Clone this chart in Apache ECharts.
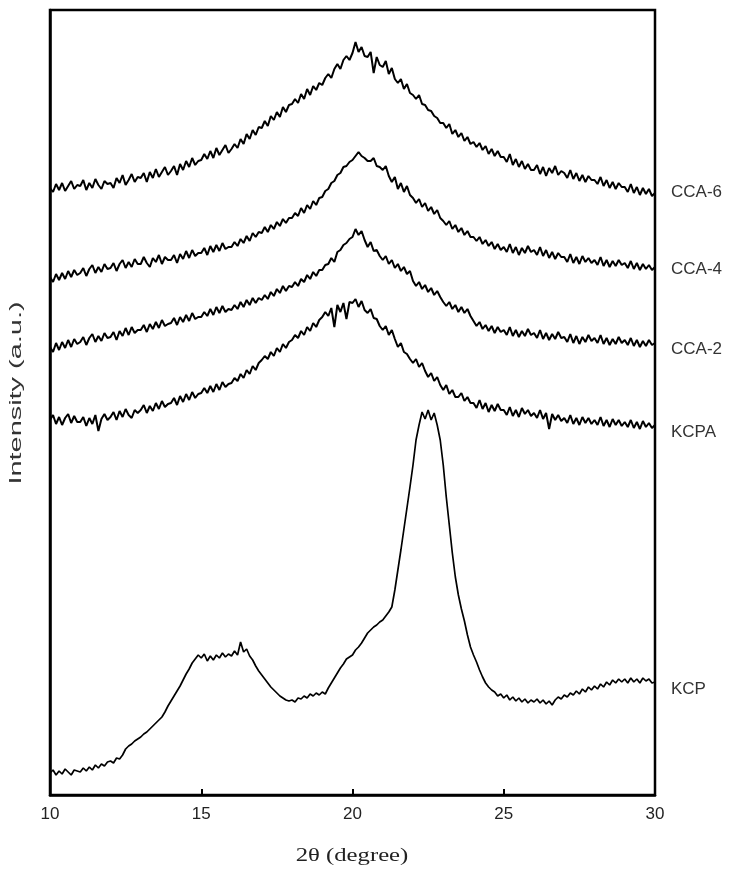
<!DOCTYPE html>
<html>
<head>
<meta charset="utf-8">
<script src="https://cdn.jsdelivr.net/npm/echarts@6/dist/echarts.min.js"></script>
<style>
html,body{margin:0;padding:0;background:#fff;}
#chart{width:750px;height:878px;}
</style>
</head>
<body>
<div id="chart"></div>
<script>
// 2θ sampling: 10.0 to 30.0 deg, step 0.1
const angleStart = 10, angleStep = 0.1, angleCount = 201;
const seriesNames = ['CCA-6', 'CCA-4', 'CCA-2', 'KCPA', 'KCP'];
const xTicks = [10, 15, 20, 25, 30];
const xTitle = '2θ (degree)';
const yTitle = 'Intensity (a.u.)';

const cca6 = [
607,603,611,605,612,604,609,614,606,610,
609,615,605,612,607,616,610,606,614,611,
612,607,617,612,620,610,615,621,613,618,
617,622,613,623,617,626,618,623,628,620,
624,629,620,631,625,634,628,637,630,634,
635,641,636,644,637,647,640,645,650,642,
646,651,647,656,651,661,656,665,660,668,
667,674,669,679,675,683,678,688,683,690,
691,696,692,701,696,706,700,709,705,712,
710,717,721,717,726,731,726,735,739,735,
742,753,743,748,739,738,743,722,738,730,
728,734,721,727,716,712,716,706,711,702,
700,696,700,691,690,685,684,679,677,672,
672,667,671,661,665,658,662,654,658,651,
653,648,652,645,649,641,646,639,644,638,
638,633,641,630,636,628,634,626,631,625,
625,630,621,628,619,627,622,629,620,624,
622,617,625,616,622,614,620,613,619,615,
615,611,618,609,615,607,613,606,612,608,
608,603,611,602,608,600,607,601,606,599,
602];

const cca4 = [
518,513,521,515,522,516,524,518,525,520,
522,527,519,526,530,522,528,523,531,526,
527,532,524,531,535,527,533,528,536,531,
531,538,532,528,537,533,540,531,538,535,
535,540,532,541,536,544,537,545,539,542,
542,547,540,549,543,550,544,552,546,548,
548,553,549,556,552,559,554,562,558,563,
562,568,563,570,566,573,569,576,572,577,
577,582,579,587,582,590,586,594,590,597,
598,604,606,612,614,620,622,628,629,633,
635,639,643,639,637,634,634,637,629,628,
625,629,619,613,618,606,612,603,609,600,
597,592,596,588,592,584,588,581,585,577,
574,570,574,566,570,563,567,560,564,558,
558,554,558,551,555,549,553,546,551,545,
548,543,551,542,548,540,547,542,549,543,
545,540,548,539,545,537,543,536,542,538,
538,533,541,532,538,531,539,533,537,532,
535,530,538,529,535,528,534,529,535,530,
532,527,534,526,532,525,531,526,530,525,
528];

const cca2 = [
448,443,452,445,453,447,455,448,456,451,
453,458,450,457,461,453,459,454,462,457,
458,463,455,464,459,467,460,468,462,465,
465,470,463,471,466,473,467,475,469,471,
472,477,470,478,473,480,474,482,476,478,
478,483,479,486,480,488,482,489,483,486,
485,490,486,493,488,495,490,497,492,497,
495,500,496,503,499,506,502,509,504,509,
508,513,509,516,513,520,516,523,519,525,
525,530,531,537,533,543,545,550,552,556,
558,566,560,564,555,548,553,544,545,539,
535,539,531,535,527,531,524,528,521,524,
514,509,513,506,510,503,507,500,504,498,
493,489,493,486,490,483,488,482,486,479,
474,469,473,466,470,464,469,462,468,463,
465,460,468,459,465,458,464,459,466,460,
462,457,465,456,462,455,461,456,463,457,
458,453,461,452,459,451,458,453,460,454,
457,452,460,451,457,450,456,451,458,452,
455,450,457,449,455,448,454,449,455,450,
452];

const kcpa = [
375,380,371,378,370,377,381,372,379,373,
373,378,369,377,371,380,364,376,381,375,
378,383,375,384,378,386,380,377,385,382,
385,390,382,389,384,392,386,394,388,391,
392,397,390,399,393,401,395,403,397,401,
402,407,402,409,403,411,405,413,408,411,
412,417,414,421,417,425,421,429,425,432,
435,439,436,443,439,447,443,451,447,453,
455,460,457,464,460,468,464,472,468,475,
478,483,479,487,468,490,483,492,476,493,
492,496,488,494,485,482,486,477,476,469,
465,469,460,465,456,448,452,443,441,436,
432,436,428,432,424,418,422,414,418,410,
405,410,401,405,398,398,402,394,398,392,
392,387,395,386,392,383,390,384,391,385,
385,380,388,379,385,378,387,381,385,379,
382,377,385,376,382,366,381,375,380,374,
377,372,380,371,377,370,378,372,377,371,
375,370,378,369,375,368,376,370,375,369,
373,368,375,367,373,366,374,368,372,367,
370];

const kcp = [
22,25,20,24,21,26,23,20,25,24,
23,27,24,28,25,30,27,31,29,33,
34,32,37,36,40,46,49,51,54,56,
58,61,63,66,69,72,75,78,83,89,
94,99,104,109,115,121,126,132,136,140,
137,141,134,139,135,140,137,142,138,141,
139,144,140,153,143,146,139,135,129,124,
120,116,112,108,105,102,99,97,95,94,
95,93,97,96,99,97,101,99,102,100,
103,101,107,112,117,122,127,131,136,138,
140,145,148,152,157,162,165,168,170,173,
175,179,183,188,205,225,245,266,287,308,
330,355,370,383,376,385,375,382,370,355,
330,298,270,242,218,200,186,174,160,148,
140,133,125,118,112,108,105,103,99,101,
97,100,95,98,94,97,93,96,92,95,
93,96,92,95,91,94,90,95,98,96,
100,98,102,100,104,101,106,103,108,105,
109,106,111,108,113,110,115,112,116,113,
116,112,117,113,116,112,117,114,116,112,
113];

const seriesValues = [cca6, cca4, cca2, kcpa, kcp];
const labelOffsets = [[0, -1], [0, 2], [0, 6], [0, 7], [0, 7]];

const angles = [];
for (let i = 0; i < angleCount; i++) angles.push(+(angleStart + i * angleStep).toFixed(1));

const chart = echarts.init(document.getElementById('chart'));
const series = seriesNames.map((name, k) => ({
  name: name,
  type: 'line',
  data: angles.map((a, i) => [a, seriesValues[k][i]]),
  showSymbol: false,
  symbol: 'none',
  lineStyle: { color: '#000', width: k === 4 ? 1.7 : 2 },
  endLabel: {
    show: true,
    formatter: '{a}',
    color: '#333',
    fontFamily: 'Liberation Sans, Arial, sans-serif',
    fontSize: 17,
    distance: 16,
    offset: labelOffsets[k]
  },
  animation: false
}));

chart.setOption({
  animation: false,
  backgroundColor: '#fff',
  grid: {
    left: 50, right: 95, top: 10, bottom: 83,
    show: true, borderColor: '#000', borderWidth: 2.5, backgroundColor: 'transparent'
  },
  xAxis: {
    type: 'value',
    min: 10, max: 30, interval: 5,
    axisLine: { show: true, lineStyle: { color: '#000', width: 2.5 } },
    axisTick: { show: true, inside: true, length: 6, lineStyle: { color: '#000', width: 2 } },
    axisLabel: { color: '#222', fontFamily: 'Liberation Sans, Arial, sans-serif', fontSize: 17, margin: 11,
      formatter: v => xTicks.includes(v) ? String(v) : '' },
    splitLine: { show: false }
  },
  yAxis: {
    type: 'value',
    min: 0, max: 785,
    axisLine: { show: true, lineStyle: { color: '#000', width: 2.5 } },
    axisTick: { show: false },
    axisLabel: { show: false },
    splitLine: { show: false }
  },
  graphic: [
    {
      type: 'text',
      x: 352, y: 856,
      scaleX: 1.3,
      style: {
        text: xTitle,
        fontFamily: 'Liberation Serif, Times New Roman, serif',
        fontSize: 19,
        fill: '#222',
        textAlign: 'center',
        textVerticalAlign: 'middle'
      }
    },
    {
      type: 'text',
      x: 16, y: 393,
      rotation: Math.PI / 2,
      scaleX: 1.7,
      style: {
        text: yTitle,
        fontFamily: 'Liberation Sans, Arial, sans-serif',
        fontSize: 17,
        fill: '#333',
        textAlign: 'center',
        textVerticalAlign: 'middle'
      }
    }
  ],
  series: series
});
</script>
</body>
</html>
